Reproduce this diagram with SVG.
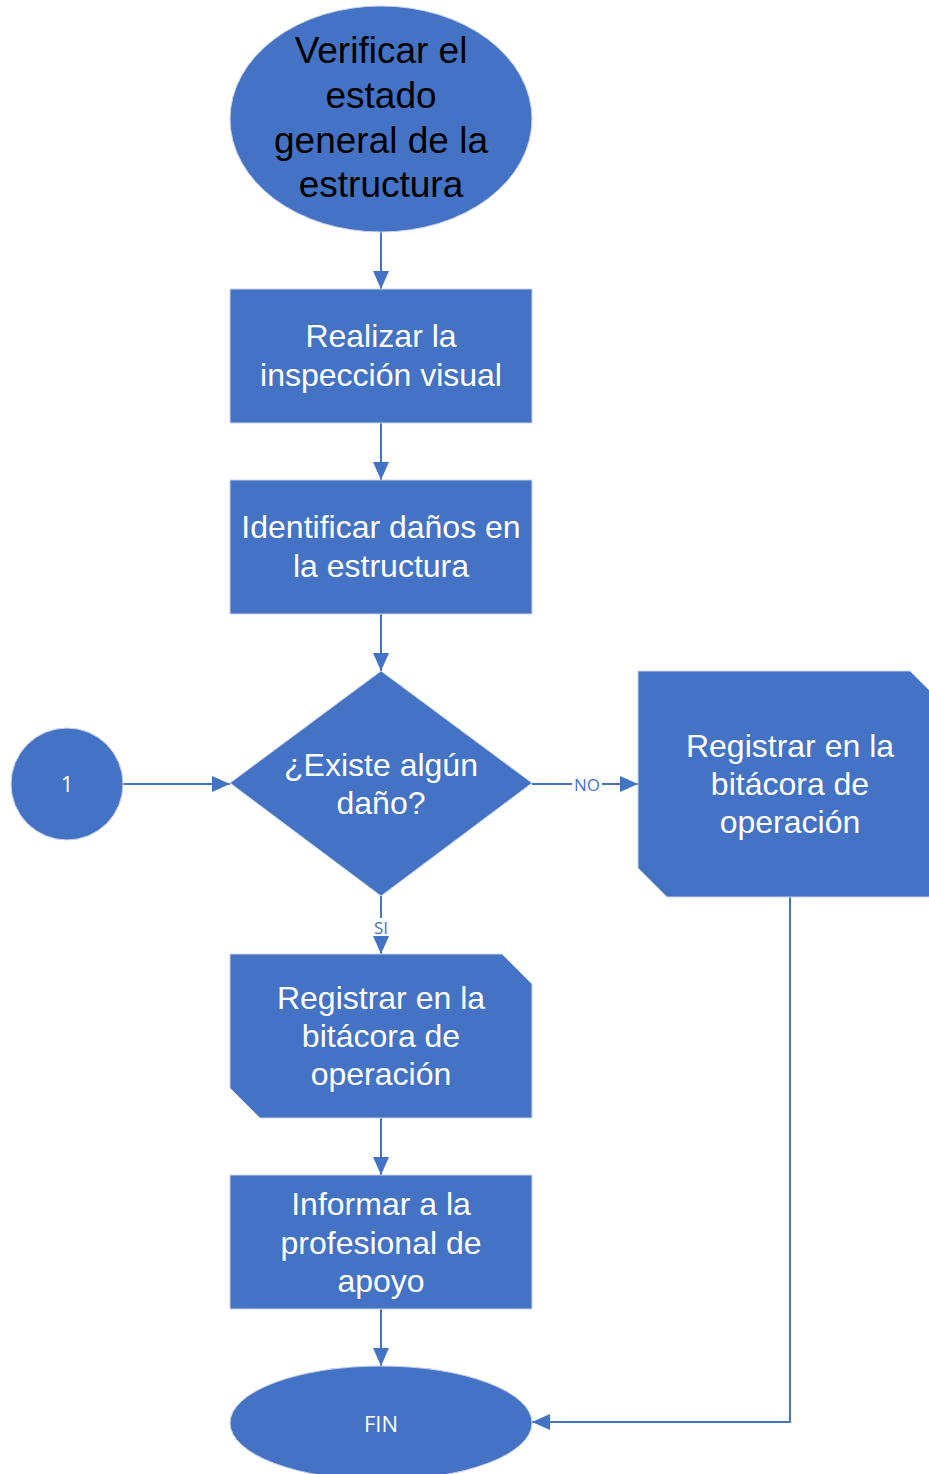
<svg xmlns="http://www.w3.org/2000/svg" width="929" height="1474" viewBox="0 0 929 1474">
<style>
.shape{fill:#4472C4;stroke:#C9D3E8;stroke-width:1}
.t{font-family:"Liberation Sans",Arial,sans-serif;font-size:32px;fill:#FFFFFF;text-anchor:middle}
.tb{font-family:"Liberation Sans",Arial,sans-serif;font-size:37px;fill:#000000;text-anchor:middle}
.ts{font-family:"Open Sans","Liberation Sans",sans-serif;font-size:22px;fill:#FFFFFF;text-anchor:middle}
.lbl{font-family:"Open Sans","Liberation Sans",sans-serif;font-size:17px;fill:#4472C4;text-anchor:middle}
.c{fill:none;stroke:#4472C4;stroke-width:2}
</style>
<defs>
<marker id="arr" viewBox="0 0 18 16" refX="18" refY="8" markerWidth="18" markerHeight="16" markerUnits="userSpaceOnUse" orient="auto">
<path d="M0,0 L18,8 L0,16 Z" fill="#4472C4"/>
</marker>
</defs>
<g id="connectors">
<line class="c" x1="381" y1="232" x2="381" y2="289" marker-end="url(#arr)"/>
<line class="c" x1="381" y1="423" x2="381" y2="480" marker-end="url(#arr)"/>
<line class="c" x1="381" y1="614" x2="381" y2="671" marker-end="url(#arr)"/>
<line class="c" x1="123" y1="784" x2="230" y2="784" marker-end="url(#arr)"/>
<line class="c" x1="532" y1="784" x2="638" y2="784" marker-end="url(#arr)"/>
<rect x="572" y="775" width="30" height="18" fill="#FFFFFF"/>
<text class="lbl" x="587" y="791">NO</text>
<line class="c" x1="381" y1="896" x2="381" y2="954" marker-end="url(#arr)"/>
<rect x="372" y="918" width="18" height="18" fill="#FFFFFF"/>
<text class="lbl" x="381" y="934">SI</text>
<line class="c" x1="381" y1="1118" x2="381" y2="1175" marker-end="url(#arr)"/>
<line class="c" x1="381" y1="1309" x2="381" y2="1366" marker-end="url(#arr)"/>
<polyline class="c" points="790,897 790,1422 532,1422" marker-end="url(#arr)"/>
</g>
<g id="n-verificar">
<ellipse class="shape" cx="381" cy="119" rx="151" ry="113"/>
<text class="tb" x="381" y="63">Verificar el</text>
<text class="tb" x="381" y="108">estado</text>
<text class="tb" x="381" y="153">general de la</text>
<text class="tb" x="381" y="197">estructura</text>
</g>
<g id="n-inspeccion">
<rect class="shape" x="230" y="289" width="302" height="134"/>
<text class="t" x="381" y="347">Realizar la</text>
<text class="t" x="381" y="386">inspección visual</text>
</g>
<g id="n-identificar">
<rect class="shape" x="230" y="480" width="302" height="134"/>
<text class="t" x="381" y="538">Identificar daños en</text>
<text class="t" x="381" y="577">la estructura</text>
</g>
<g id="n-decision">
<polygon class="shape" points="381,671 532,783 381,896 230,783"/>
<text class="t" x="381" y="776">¿Existe algún</text>
<text class="t" x="381" y="814">daño?</text>
</g>
<g id="n-conector1">
<circle class="shape" cx="67" cy="784" r="56"/>
<text class="ts" x="67" y="792">1</text>
</g>
<g id="n-registrar-no">
<polygon class="shape" points="638,671 910,671 939,700 939,897 667,897 638,868"/>
<text class="t" x="790" y="757">Registrar en la</text>
<text class="t" x="790" y="795">bitácora de</text>
<text class="t" x="790" y="833">operación</text>
</g>
<g id="n-registrar-si">
<polygon class="shape" points="230,954 502,954 532,984 532,1118 260,1118 230,1088"/>
<text class="t" x="381" y="1009">Registrar en la</text>
<text class="t" x="381" y="1047">bitácora de</text>
<text class="t" x="381" y="1085">operación</text>
</g>
<g id="n-informar">
<rect class="shape" x="230" y="1175" width="302" height="134"/>
<text class="t" x="381" y="1215">Informar a la</text>
<text class="t" x="381" y="1254">profesional de</text>
<text class="t" x="381" y="1292">apoyo</text>
</g>
<g id="n-fin">
<ellipse class="shape" cx="381" cy="1423" rx="151" ry="57"/>
<text class="ts" x="381" y="1432">FIN</text>
</g>
</svg>
